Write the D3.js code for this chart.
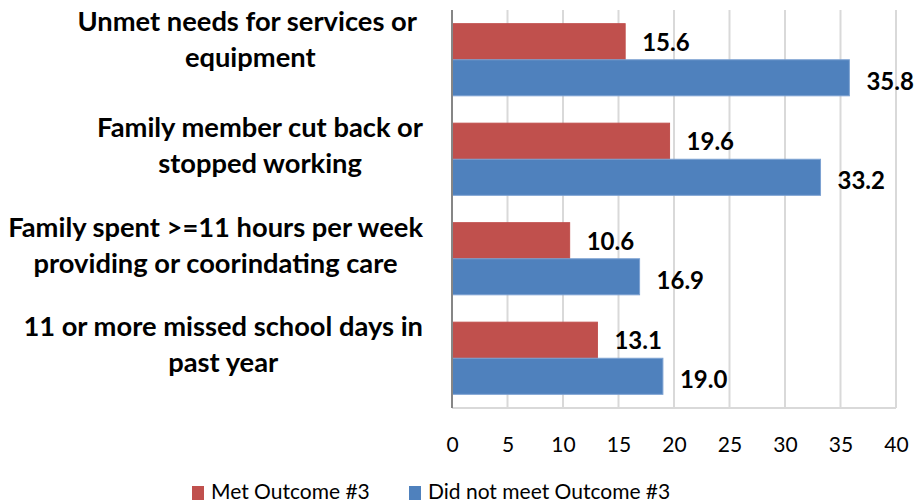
<!DOCTYPE html>
<html>
<head>
<meta charset="utf-8">
<script src="https://cdn.jsdelivr.net/npm/d3@7"></script>
<style>
  html, body { margin: 0; padding: 0; background: #fff; }
  svg { display: block; }
  text { font-family: Lato, "Open Sans", sans-serif; fill: #000; }
</style>
</head>
<body>
<svg id="chart" width="919" height="504"></svg>
<script>
// Outcome categories (each label split into its wrapped lines)
const categories = [
  ["Unmet needs for services or ", "equipment"],
  ["Family member cut back or", "stopped working"],
  ["Family spent >=11 hours per week", "providing or coorindating care"],
  ["11 or more missed school days in", "past year"]
];
const seriesNames = ["Met Outcome #3", "Did not meet Outcome #3"];
const metValues = [15.6, 19.6, 10.6, 13.1];
const notMetValues = [35.8, 33.2, 16.9, 19.0];
const xTicks = [0, 5, 10, 15, 20, 25, 30, 35, 40];
const colors = ["#C0504D", "#4F81BD"];
const strokes = ["#C0504D", "#7DA2D2"];

const svg = d3.select("#chart");
const plot = { left: 452, right: 896, top: 10, bottom: 408 };

const x = d3.scaleLinear().domain([0, 40]).range([plot.left, plot.right]);
const y = d3.scaleBand().domain(d3.range(categories.length))
  .range([plot.top, plot.bottom]).paddingInner(0.275).paddingOuter(0.1375);
const sub = d3.scaleBand().domain([0, 1]).range([0, y.bandwidth()]);

// vertical gridlines
svg.append("g")
  .selectAll("line")
  .data(xTicks.slice(1))
  .join("line")
  .attr("x1", d => x(d)).attr("x2", d => x(d))
  .attr("y1", plot.top).attr("y2", plot.bottom)
  .attr("stroke", "#D9D9D9").attr("stroke-width", 2);

// bottom gridline
svg.append("line")
  .attr("x1", plot.left).attr("x2", plot.right)
  .attr("y1", plot.bottom).attr("y2", plot.bottom)
  .attr("stroke", "#D9D9D9").attr("stroke-width", 2);

// bars with value labels
const series = [metValues, notMetValues];
series.forEach((vals, s) => {
  const g = svg.append("g");
  g.selectAll("rect")
    .data(vals)
    .join("rect")
    .attr("x", x(0))
    .attr("y", (d, i) => y(i) + sub(s))
    .attr("width", d => x(d) - x(0))
    .attr("height", sub.bandwidth())
    .attr("fill", colors[s])
    .attr("stroke", strokes[s])
    .attr("stroke-width", 1);
  g.selectAll("text")
    .data(vals)
    .join("text")
    .attr("x", d => x(d) + 17)
    .attr("y", (d, i) => y(i) + sub(s) + sub.bandwidth() / 2 + 9 + s * 3)
    .attr("font-size", 24)
    .attr("font-weight", "bold")
    .text(d => d.toFixed(1));
});

// category axis line
svg.append("line")
  .attr("x1", plot.left).attr("x2", plot.left)
  .attr("y1", plot.top).attr("y2", plot.bottom)
  .attr("stroke", "#868686").attr("stroke-width", 2);

// value axis tick labels
const xAxis = d3.axisBottom(x).tickValues(xTicks).tickSize(0).tickPadding(0);
const xg = svg.append("g").attr("transform", `translate(0,${plot.bottom})`).call(xAxis);
xg.select(".domain").remove();
xg.selectAll("text")
  .attr("dy", null)
  .attr("y", 44)
  .attr("font-size", 21)
  .attr("font-family", "Lato, 'Open Sans', sans-serif")
  .attr("fill", "#000");

// category labels, wrapped lines centred on the widest line
const labelRight = 423;
const lg = svg.append("g").attr("font-size", 27.3).attr("font-weight", "bold");
categories.forEach((lines, i) => {
  const c = y(i) + y.bandwidth() / 2 + (i === 0 ? -7 : 0);
  const t = lg.append("text").attr("text-anchor", "middle").style("white-space", "pre");
  const spans = lines.map((ln, k) =>
    t.append("tspan").attr("y", c - 22 + k * 36).text(ln));
  const w = d3.max(spans, sp => sp.node().getComputedTextLength());
  spans.forEach(sp => sp.attr("x", labelRight - w / 2));
});

// legend
const legendItems = [{ x: 192 }, { x: 409 }];
const leg = svg.append("g");
seriesNames.forEach((name, s) => {
  leg.append("rect")
    .attr("x", legendItems[s].x).attr("y", 486)
    .attr("width", 12).attr("height", 14)
    .attr("fill", colors[s]);
  leg.append("text")
    .attr("x", legendItems[s].x + 19).attr("y", 499)
    .attr("font-size", 21)
    .text(name);
});
</script>
</body>
</html>
